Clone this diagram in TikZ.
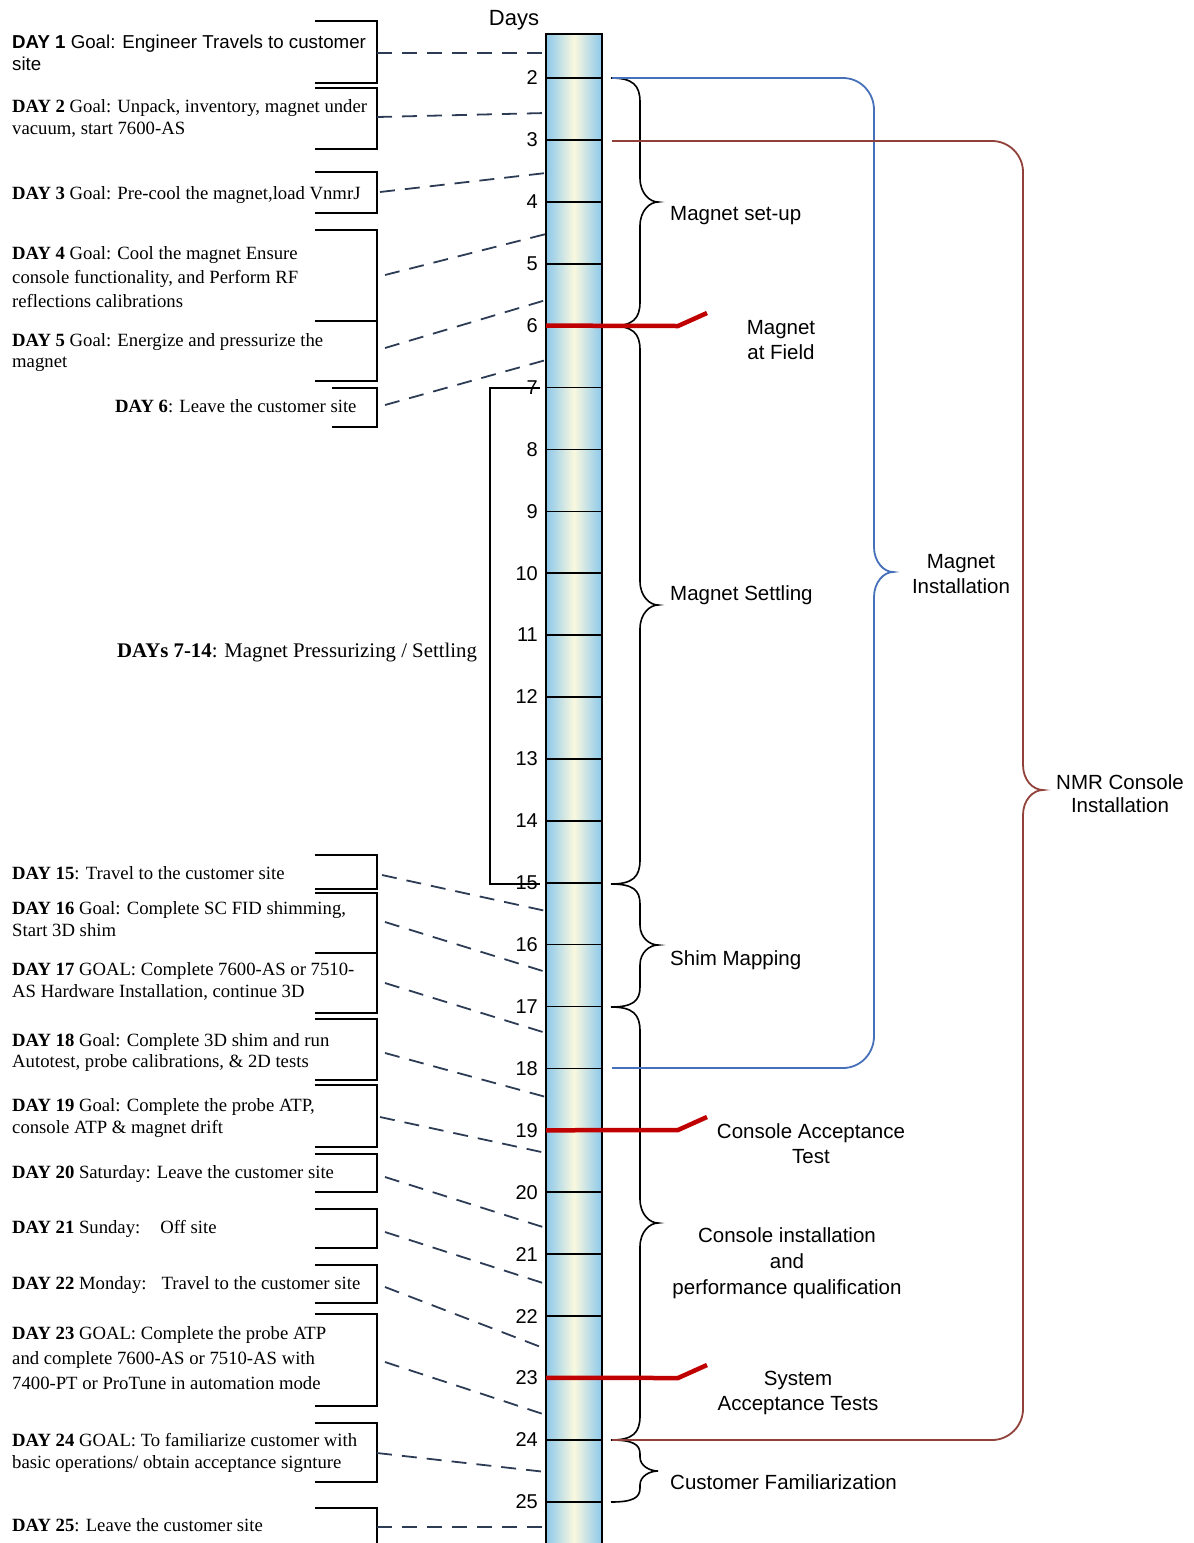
\documentclass[tikz,border=0pt]{standalone}
\usepackage{fontspec}
\setmainfont{Liberation Serif}
\setsansfont{Liberation Sans}
\newfontfamily\arialf{Liberation Sans}
\definecolor{barblue}{RGB}{140,200,235}
\definecolor{barcream}{RGB}{250,248,222}
\definecolor{connc}{RGB}{45,60,85}
\definecolor{bluebr}{RGB}{70,112,185}
\definecolor{brownbr}{RGB}{145,65,58}
\definecolor{mkred}{RGB}{192,0,0}
\newcommand\lbr[3]{\draw[bracketl] (#1,#2) -- (377,#2) -- (377,#3) -- (#1,#3);}
\newcommand\cbrace[4]{\draw[cbr] (611,#1) .. controls ({611+0.75*(29)},#1) and (640,{#1+0.3*#4}) .. (640,{#1+#4}) -- (640,{#2-#4}) .. controls (640,{#2-0.35*#4}) and (650,#2) .. (658,#2) .. controls (650,#2) and (640,{#2+0.35*#4}) .. (640,{#2+#4}) -- (640,{#3-#4}) .. controls (640,{#3-0.3*#4}) and ({611+0.75*(29)},#3) .. (611,#3);}
\begin{document}
\begin{tikzpicture}[x=1pt,y=-1pt,
  bracketl/.style={draw=black,line width=1.8pt},
  conn/.style={draw=connc,line width=1.8pt,dash pattern=on 15pt off 10pt},
  ltext/.style={anchor=north west,inner sep=0pt,align=left,font=\fontsize{18.7}{23}\selectfont},
  rtext/.style={inner sep=0pt,align=center,font=\arialf\fontsize{20.5}{25}\selectfont},
  num/.style={inner sep=0pt,anchor=east,font=\arialf\fontsize{20}{24}\selectfont},
  tick/.style={draw=black,line width=1.6pt},
  cbr/.style={draw=black,line width=1.6pt},
  mk/.style={draw=mkred,line width=4.5pt},
  bigbr/.style={line width=1.8pt}]
\useasboundingbox (0,0) rectangle (1194,1543);
\begin{scope}
\clip (0,0) rectangle (1194,1543);
% bar
\path[left color=barblue,right color=barblue,middle color=barcream] (546,34) rectangle (602,1560);
\draw[line width=2pt] (546,1560) -- (546,34) -- (602,34) -- (602,1560);
\node[inner sep=0pt,font=\arialf\fontsize{22}{26}\selectfont] (days) at (514,20) {Days};
\foreach \d in {2,...,25} {
  \pgfmathsetmacro\yy{78+(\d-2)*61.9}
  \coordinate (t\d) at (546,\yy);
  \coordinate (r\d) at (602,\yy);
  \draw[tick] (t\d) -- (r\d);
  \node[num] (n\d) at (538,\yy) {\d};
}
% left brackets
\lbr{315}{21}{83}
\lbr{315}{88}{149}
\lbr{315}{172}{213}
\lbr{315}{230}{321}
\lbr{315}{321}{381}
\lbr{332}{388}{427}
\lbr{315}{855}{889}
\lbr{315}{893}{953}
\lbr{315}{953}{1013}
\lbr{315}{1019}{1080}
\lbr{315}{1085}{1147}
\lbr{315}{1154}{1192}
\lbr{315}{1209}{1248}
\lbr{315}{1265}{1303}
\lbr{315}{1314}{1406}
\lbr{315}{1423}{1482}
\lbr{315}{1508}{1560}
% days 7-14 bracket
\draw[draw=black,line width=1.5pt] (540,388) -- (490,388) -- (490,884) -- (540,884);
% left texts
\node[ltext,font=\arialf\fontsize{18.7}{21.5}\selectfont] (d1) at (12,35) {\textbf{DAY 1} Goal: Engineer Travels to customer\\site};
\node[ltext,font=\fontsize{18.7}{22}\selectfont] (d2) at (12,99) {\textbf{DAY 2} Goal: Unpack, inventory, magnet under\\vacuum, start 7600-AS};
\node[ltext] (d3) at (12,186) {\textbf{DAY 3} Goal: Pre-cool the magnet,load VnmrJ};
\node[ltext,font=\fontsize{18.7}{24}\selectfont] (d4) at (12,246) {\textbf{DAY 4} Goal: Cool the magnet Ensure\\console functionality, and Perform RF\\reflections calibrations};
\node[ltext,font=\fontsize{18.7}{21.5}\selectfont] (d5) at (12,333) {\textbf{DAY 5} Goal: Energize and pressurize the\\magnet};
\node[ltext] (d6) at (115,399) {\textbf{DAY 6}: Leave the customer site};
\node[ltext,font=\fontsize{20.8}{24}\selectfont] (d7) at (117,643) {\textbf{DAYs 7-14}: Magnet Pressurizing / Settling};
\node[ltext] (d15) at (12,866) {\textbf{DAY 15}: Travel to the customer site};
\node[ltext,font=\fontsize{18.7}{22}\selectfont] (d16) at (12,901) {\textbf{DAY 16} Goal: Complete SC FID shimming,\\Start 3D shim};
\node[ltext,font=\fontsize{18.7}{22}\selectfont] (d17) at (12,962) {\textbf{DAY 17} GOAL: Complete 7600-AS or 7510-\\AS Hardware Installation, continue 3D};
\node[ltext,font=\fontsize{18.7}{21}\selectfont] (d18) at (12,1033) {\textbf{DAY 18} Goal: Complete 3D shim and run\\Autotest, probe calibrations, \& 2D tests};
\node[ltext,font=\fontsize{18.7}{22}\selectfont] (d19) at (12,1098) {\textbf{DAY 19} Goal: Complete the probe ATP,\\console ATP \& magnet drift};
\node[ltext] (d20) at (12,1165) {\textbf{DAY 20} Saturday: Leave the customer site};
\node[ltext] (d21) at (12,1220) {\textbf{DAY 21} Sunday:\hspace{20pt}Off site};
\node[ltext] (d22) at (12,1276) {\textbf{DAY 22} Monday:\hspace{15pt}Travel to the customer site};
\node[ltext,font=\fontsize{18.7}{25}\selectfont] (d23) at (12,1326) {\textbf{DAY 23} GOAL: Complete the probe ATP\\and complete 7600-AS or 7510-AS with\\7400-PT or ProTune in automation mode};
\node[ltext,font=\fontsize{18.7}{22}\selectfont] (d24) at (12,1433) {\textbf{DAY 24} GOAL: To familiarize customer with\\basic operations/ obtain acceptance signture};
\node[ltext] (d25) at (12,1518) {\textbf{DAY 25}: Leave the customer site};
% dashed connectors
\foreach \i/\xa/\ya/\yb in {1/377/53/53, 2/377/117/113, 3/380/192/173, 4/385/275/234, 5/385/348/300, 6/385/405/360, 15/382/875/911, 16/385/922/972, 17/385/983/1033, 18/385/1053/1097, 19/380/1117/1153, 20/385/1177/1228, 21/385/1232/1284, 22/385/1287/1349, 23/385/1362/1415, 24/377/1453/1472, 25/377/1527/1527} {
  \coordinate (ca\i) at (\xa,\ya);
  \coordinate (cb\i) at (546,\yb);
  \draw[conn] (ca\i) -- (cb\i);
}
% curly braces
\cbrace{78}{202}{326}{24}
\cbrace{326}{605}{884}{24}
\cbrace{884}{945}{1007}{20}
\cbrace{1007}{1223}{1440}{24}
\cbrace{1440}{1471}{1502}{14}
% big braces
\draw[bigbr,draw=bluebr] (612,78) -- (843,78) .. controls (860,78) and (874,92) .. (874,110) -- (874,547) .. controls (874,562) and (884,572) .. (893,572) .. controls (884,572) and (874,582) .. (874,597) -- (874,1036) .. controls (874,1054) and (860,1068) .. (843,1068) -- (612,1068);
\draw[bigbr,draw=brownbr] (612,141) -- (992,141) .. controls (1009,141) and (1023,155) .. (1023,172) -- (1023,765) .. controls (1023,780) and (1033,790) .. (1043,790) .. controls (1033,790) and (1023,800) .. (1023,815) -- (1023,1409) .. controls (1023,1426) and (1009,1440) .. (992,1440) -- (612,1440);
% red markers
\coordinate (m6a) at (678,326); \coordinate (m6b) at (707,313);
\coordinate (m19a) at (678,1130); \coordinate (m19b) at (707,1117);
\coordinate (m23a) at (678,1378); \coordinate (m23b) at (707,1365);
\draw[mk] (t6) -- (m6a) -- (m6b);
\draw[mk] (t19) -- (m19a) -- (m19b);
\draw[mk] (t23) -- (m23a) -- (m23b);
% right labels
\node[rtext,anchor=base west] (setup) at (670,220) {Magnet set-up};
\node[rtext,anchor=north] (field) at (781,320) {Magnet\\at Field};
\node[rtext,anchor=base west] (settle) at (670,600) {Magnet Settling};
\node[rtext,anchor=base west] (shim) at (670,965) {Shim Mapping};
\node[rtext,anchor=north] (minst) at (961,554) {Magnet\\Installation};
\node[rtext,anchor=north,font=\arialf\fontsize{20.5}{23.5}\selectfont] (nmr) at (1120,774) {NMR Console\\Installation};
\node[rtext,anchor=north] (cat) at (811,1123) {Console Acceptance\\Test};
\node[rtext,anchor=north,font=\arialf\fontsize{20.5}{26}\selectfont] (cinst) at (787,1227) {Console installation\\and\\performance qualification};
\node[rtext,anchor=north] (sat) at (798,1371) {System\\Acceptance Tests};
\node[rtext,anchor=base west] (cfam) at (670,1489) {Customer Familiarization};
\end{scope}
\end{tikzpicture}
\end{document}
